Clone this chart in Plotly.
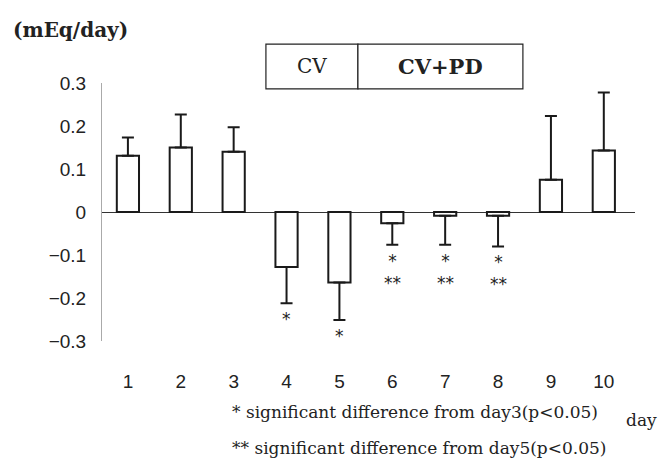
import plotly.graph_objects as go

days = [1, 2, 3, 4, 5, 6, 7, 8, 9, 10]
tick_labels = ["1", "2", "3", "4", "5", "6", "7", "8", "9", "10"]
means = [0.131, 0.150, 0.140, -0.128, -0.164, -0.026, -0.009, -0.009, 0.075, 0.143]
sd = [0.042, 0.077, 0.057, 0.084, 0.087, 0.050, 0.067, 0.071, 0.148, 0.135]
sig_day3 = ["", "", "", "*", "*", "*", "*", "*", "", ""]
sig_day5 = ["", "", "", "", "", "**", "**", "**", "", ""]
y_ticks = [0.3, 0.2, 0.1, 0, -0.1, -0.2, -0.3]
y_tick_text = ["0.3", "0.2", "0.1", "0", "−0.1", "−0.2", "−0.3"]

err_plus = [s if m >= 0 else 0 for m, s in zip(means, sd)]
err_minus = [s if m < 0 else 0 for m, s in zip(means, sd)]

fig = go.Figure()
fig.add_trace(go.Bar(
    x=days, y=means, width=0.42,
    marker=dict(color="white", line=dict(color="#1a1a1a", width=2)),
    error_y=dict(type="data", symmetric=False, array=err_plus, arrayminus=err_minus,
                 color="#1a1a1a", thickness=2, width=6),
    showlegend=False,
))

serif = "DejaVu Serif, serif"
sans = "Liberation Sans, Arial, sans-serif"
ast_font = dict(family="DejaVu Sans, sans-serif", size=17, color="#222")

# significance markers, hung below the end of each error bar
for d, m, s, a, b in zip(days, means, sd, sig_day3, sig_day5):
    lines = [t for t in (a, b) if t]
    if lines:
        fig.add_annotation(x=d, y=m - s, text="<br>".join(lines), showarrow=False,
                           font=ast_font, yanchor="top", yshift=-4)

# title / unit
fig.add_annotation(xref="paper", yref="paper", x=-0.17, y=1.205, text="<b>(mEq/day)</b>",
                   showarrow=False, xanchor="left", yanchor="middle",
                   font=dict(family=serif, size=20, color="#222"))

# CV / CV+PD boxes
fig.add_shape(type="rect", xref="x", yref="paper", x0=3.61, x1=5.35, y0=0.977, y1=1.151,
              line=dict(color="#222", width=1.2), fillcolor="white")
fig.add_shape(type="rect", xref="x", yref="paper", x0=5.35, x1=8.47, y0=0.977, y1=1.151,
              line=dict(color="#222", width=1.2), fillcolor="white")
fig.add_annotation(xref="x", yref="paper", x=(3.61 + 5.35) / 2, y=1.064, text="CV",
                   showarrow=False, yanchor="middle",
                   font=dict(family=serif, size=20, color="#222"))
fig.add_annotation(xref="x", yref="paper", x=(5.35 + 8.47) / 2, y=1.064, text="<b>CV+PD</b>",
                   showarrow=False, yanchor="middle",
                   font=dict(family=serif, size=21, color="#222"))

# footnotes
fig.add_annotation(xref="paper", yref="paper", x=0.24, y=-0.275,
                   text="* significant difference from day3(p&lt;0.05)", showarrow=False,
                   xanchor="left", yanchor="middle", font=dict(family=serif, size=17, color="#222"))
fig.add_annotation(xref="paper", yref="paper", x=0.24, y=-0.415,
                   text="** significant difference from day5(p&lt;0.05)", showarrow=False,
                   xanchor="left", yanchor="middle", font=dict(family=serif, size=17, color="#222"))
fig.add_annotation(xref="paper", yref="paper", x=1.045, y=-0.305, text="day", showarrow=False,
                   xanchor="right", yanchor="middle", font=dict(family=serif, size=17, color="#222"))

fig.update_layout(
    width=662, height=462,
    margin=dict(l=102, r=27, t=83, b=121),
    paper_bgcolor="white", plot_bgcolor="white",
    xaxis=dict(range=[0.51, 10.59], tickvals=days, ticktext=tick_labels, showgrid=False,
               zeroline=False, showline=False, ticks="",
               tickfont=dict(family=sans, size=19, color="#222")),
    yaxis=dict(range=[-0.3, 0.3], tickvals=y_ticks, ticktext=y_tick_text, showgrid=False,
               zeroline=True, zerolinecolor="#333", zerolinewidth=1.2,
               showline=True, linecolor="#aaa", linewidth=1, ticks="",
               tickfont=dict(family=sans, size=19, color="#222")),
)
fig.update_xaxes(ticklabelstandoff=27)
fig.update_yaxes(ticklabelstandoff=11)

fig.write_html("out.html")
